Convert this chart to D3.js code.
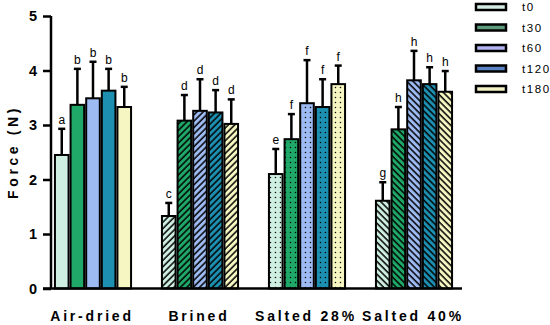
<!DOCTYPE html>
<html lang="en">
<head>
<meta charset="utf-8">
<title>Force chart</title>
<script src="https://cdn.jsdelivr.net/npm/d3@7"></script>
<style>
  body { margin: 0; background: #fff; }
  text { font-family: "Liberation Sans", Arial, sans-serif; }
</style>
</head>
<body>
<svg id="chart" width="550" height="325"></svg>
<script>
// data
var groups = ["Air-dried", "Brined", "Salted 28%", "Salted 40%"];
var times = ["t0", "t30", "t60", "t120", "t180"];
var means = [
  [2.45, 3.37, 3.49, 3.63, 3.33],
  [1.33, 3.08, 3.26, 3.23, 3.02],
  [2.10, 2.74, 3.40, 3.33, 3.75],
  [1.61, 2.92, 3.82, 3.75, 3.61]
];
var errTop = [
  [2.93, 4.03, 4.16, 4.03, 3.70],
  [1.57, 3.55, 3.84, 3.64, 3.47],
  [2.56, 3.20, 4.19, 3.84, 4.09],
  [1.95, 3.33, 4.36, 4.06, 3.99]
];
var letters = [
  ["a", "b", "b", "b", "b"],
  ["c", "d", "d", "d", "d"],
  ["e", "f", "f", "f", "f"],
  ["g", "h", "h", "h", "h"]
];
var yTicks = [0, 1, 2, 3, 4, 5];

var barColors = ["#cfeee2", "#1fa868", "#9dbaf2", "#1d8fb0", "#f6f6c2"];
var legendColors = ["#d4ece4", "#5c9c7c", "#b4b4f2", "#5a82c4", "#f2f2c4"];
var fills = ["solid", "hatchR", "dots", "hatchL"];

var svg = d3.select("#chart");

var x = d3.scaleBand().domain(groups).range([39.5, 467.5])
    .paddingInner(0.27).paddingOuter(0.135);
var xs = d3.scaleBand().domain(times).range([0, x.bandwidth()]);
var y = d3.scaleLinear().domain([0, 5]).range([288.5, 16]);

// patterns
var defs = svg.append("defs");
times.forEach(function(t, i) {
  var c = barColors[i];
  ["hatchR", "hatchL"].forEach(function(k) {
    var p = defs.append("pattern").attr("id", k + i)
      .attr("patternUnits", "userSpaceOnUse")
      .attr("width", 4.5).attr("height", 4.5)
      .attr("patternTransform", k == "hatchR" ? "rotate(45)" : "rotate(-45)");
    p.append("rect").attr("width", 4.5).attr("height", 4.5).attr("fill", c);
    p.append("line").attr("x1", 1).attr("x2", 1).attr("y1", 0).attr("y2", 4.5)
      .attr("stroke", "#000").attr("stroke-width", 1.5);
  });
  var p = defs.append("pattern").attr("id", "dots" + i)
    .attr("patternUnits", "userSpaceOnUse")
    .attr("width", 5).attr("height", 5);
  p.append("rect").attr("width", 5).attr("height", 5).attr("fill", c);
  p.append("circle").attr("cx", 2.5).attr("cy", 2.5).attr("r", 0.75).attr("fill", "#000");
});

function fillFor(g, i) {
  var k = fills[g];
  if (k == "solid") return barColors[i];
  return "url(#" + k + i + ")";
}

// bars
groups.forEach(function(gname, g) {
  var gg = svg.append("g").attr("transform", "translate(" + x(gname) + ",0)");
  var rows = times.map(function(t, i) {
    return { t: t, i: i, v: means[g][i], e: errTop[g][i], l: letters[g][i] };
  });

  // error bars
  gg.selectAll("line.err").data(rows).enter().append("line")
    .attr("x1", function(d) { return xs(d.t) + xs.bandwidth() / 2; })
    .attr("x2", function(d) { return xs(d.t) + xs.bandwidth() / 2; })
    .attr("y1", function(d) { return y(d.v); })
    .attr("y2", function(d) { return y(d.e); })
    .attr("stroke", "#000").attr("stroke-width", 2.5);
  gg.selectAll("line.cap").data(rows).enter().append("line")
    .attr("x1", function(d) { return xs(d.t) + xs.bandwidth() / 2 - 3.5; })
    .attr("x2", function(d) { return xs(d.t) + xs.bandwidth() / 2 + 3.5; })
    .attr("y1", function(d) { return y(d.e); })
    .attr("y2", function(d) { return y(d.e); })
    .attr("stroke", "#000").attr("stroke-width", 2.5);

  gg.selectAll("rect").data(rows).enter().append("rect")
    .attr("x", function(d) { return xs(d.t) + 1; })
    .attr("width", xs.bandwidth() - 2)
    .attr("y", function(d) { return y(d.v); })
    .attr("height", function(d) { return y(0) - y(d.v); })
    .attr("fill", function(d) { return fillFor(g, d.i); })
    .attr("stroke", "#000").attr("stroke-width", 2);

  gg.selectAll("text").data(rows).enter().append("text")
    .attr("x", function(d) { return xs(d.t) + xs.bandwidth() / 2; })
    .attr("y", function(d) { return y(d.e) - 5; })
    .attr("text-anchor", "middle")
    .attr("font-size", 12)
    .text(function(d) { return d.l; });
});

// y axis
var yAxis = svg.append("g").attr("transform", "translate(51,0)")
  .call(d3.axisLeft(y).tickValues(yTicks).tickFormat(d3.format("d")).tickSize(8));
yAxis.select(".domain").attr("stroke-width", 2.5).attr("d", "M0," + y(5) + "V" + y(0));
yAxis.selectAll(".tick line").attr("stroke-width", 2.5);
yAxis.selectAll(".tick text").attr("font-size", 14.5).attr("font-weight", "bold")
  .attr("font-family", "Liberation Sans, Arial, sans-serif").attr("x", -14);

// x axis line
svg.append("line").attr("x1", 43).attr("x2", 462)
  .attr("y1", y(0)).attr("y2", y(0))
  .attr("stroke", "#000").attr("stroke-width", 2.5);

// x labels
svg.selectAll("text.xl").data(groups).enter().append("text")
  .attr("class", "xl")
  .attr("x", function(d) { return x(d) + x.bandwidth() / 2 - 1; })
  .attr("y", 321)
  .attr("text-anchor", "middle")
  .attr("font-size", 14).attr("font-weight", "bold")
  .attr("letter-spacing", 2.8)
  .text(function(d) { return d; });

// y title
svg.append("text")
  .attr("transform", "translate(18,152) rotate(-90)")
  .attr("text-anchor", "middle")
  .attr("font-size", 14).attr("font-weight", "bold")
  .attr("letter-spacing", 3.6)
  .text("Force (N)");

// legend
var leg = svg.selectAll("g.leg").data(times).enter().append("g")
  .attr("class", "leg")
  .attr("transform", function(d, i) { return "translate(476," + (7 + i * 20.5) + ")"; });
leg.append("rect").attr("x", 0).attr("y", -3).attr("width", 30).attr("height", 6)
  .attr("fill", function(d, i) { return legendColors[i]; })
  .attr("stroke", "#000").attr("stroke-width", 2.5);
leg.append("text").attr("x", 46).attr("y", 4)
  .attr("font-size", 11.5).attr("letter-spacing", 1.6)
  .text(function(d) { return d; });
</script>
</body>
</html>
